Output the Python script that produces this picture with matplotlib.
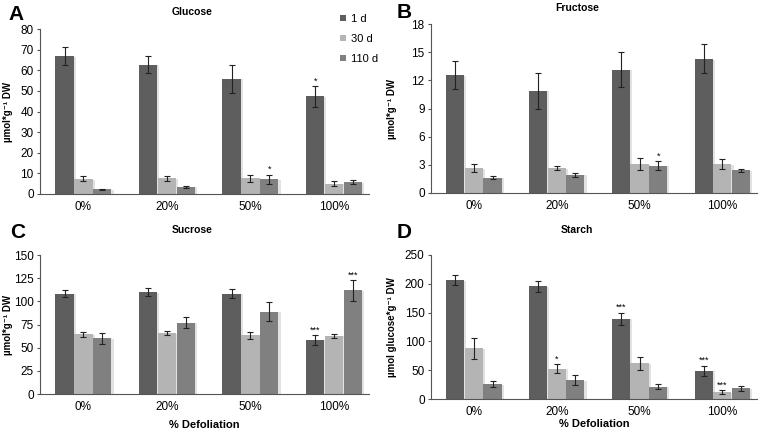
import matplotlib
matplotlib.use("Agg")
import matplotlib.pyplot as plt
import numpy as np

groups = ["0%", "20%", "50%", "100%"]
series = ["1 d", "30 d", "110 d"]
colors = ["#5e5e5e", "#b4b4b4", "#808080"]

# Glucose
glu = [[67.0, 62.8, 56.0, 47.3],
       [7.3, 7.6, 7.6, 5.0],
       [2.2, 3.5, 7.1, 5.8]]
glu_err = [[4.5, 4.2, 6.8, 5.0],
           [1.2, 1.3, 1.8, 1.2],
           [0.4, 0.5, 2.3, 0.8]]
glu_sig = {(0, 3): "*", (2, 2): "*"}

# Fructose
fru = [[12.55, 10.9, 13.15, 14.3],
       [2.65, 2.65, 3.1, 3.1],
       [1.65, 1.95, 2.9, 2.4]]
fru_err = [[1.5, 1.9, 1.9, 1.55],
           [0.45, 0.22, 0.6, 0.5],
           [0.15, 0.2, 0.5, 0.2]]
fru_sig = {(2, 2): "*"}

# Sucrose
suc = [[108.5, 110.2, 108.5, 58.5],
       [64.5, 66.0, 63.5, 63.0],
       [60.5, 77.0, 89.0, 112.0]]
suc_err = [[3.5, 4.0, 5.0, 5.0],
           [3.0, 2.5, 3.5, 2.0],
           [6.0, 6.0, 10.5, 11.0]]
suc_sig = {(0, 3): "***", (2, 3): "***"}

# Starch
sta = [[206.0, 196.0, 139.0, 49.0],
       [88.0, 52.5, 62.0, 12.0],
       [26.0, 33.0, 21.5, 18.5]]
sta_err = [[9.0, 9.5, 11.0, 8.5],
           [18.0, 8.0, 11.5, 3.0],
           [5.0, 8.0, 4.5, 4.0]]
sta_sig = {(1, 1): "*", (0, 2): "***", (0, 3): "***", (1, 3): "***"}

fig = plt.figure(figsize=(7.64, 4.34), dpi=100)
plt.rcParams['font.family'] = ['Liberation Sans', 'DejaVu Sans']

w = 0.22
x = np.arange(len(groups))


def panel(rect, vals, errs, sig, ymax, ystep, ylabel, ylx, xlabel=None, xly=None):
    ax = fig.add_axes(rect)
    for i in range(3):
        pos = x + (i - 1) * (w + 0.005)
        # light shadow on the right side of each bar
        ax.bar(pos + 0.025, np.array(vals[i]) - ymax * 0.004, w, color="#e2e2e2",
               zorder=1)
        ax.bar(pos, vals[i], w, color=colors[i], label=series[i], zorder=2)
        ax.errorbar(pos, vals[i], yerr=errs[i], fmt="none", ecolor="#222222",
                    elinewidth=0.8, capsize=2, capthick=0.8, zorder=3)
    for (i, j), s in sig.items():
        pos = j + (i - 1) * (w + 0.005)
        ax.text(pos, vals[i][j] + errs[i][j] + ymax * 0.005, s, ha="center",
                va="bottom", fontsize=6.5)
    ax.set_xlim(-0.52, 3.42)
    ax.set_ylim(0, ymax)
    ax.set_yticks(np.arange(0, ymax + 0.1, ystep))
    ax.set_xticks(x)
    ax.set_xticklabels(groups, fontsize=8.5)
    ax.tick_params(axis="y", labelsize=8.5, length=2.5, color="#555555",
                   width=0.8, pad=2)
    ax.tick_params(axis="x", length=0, pad=5)
    for s in ["top", "right"]:
        ax.spines[s].set_visible(False)
    for s in ["left", "bottom"]:
        ax.spines[s].set_color("#555555")
        ax.spines[s].set_linewidth(0.8)
    ax.set_ylabel(ylabel, fontsize=7, fontweight="bold")
    ax.yaxis.set_label_coords(ylx, 0.5)
    if xlabel:
        ax.set_xlabel(xlabel, fontsize=8, fontweight="bold")
        ax.xaxis.set_label_coords(0.5, xly)
    return ax


axA = panel([0.0524, 0.553, 0.4306, 0.380], glu, glu_err, glu_sig, 80, 10,
            "µmol*g⁻¹ DW", -0.082)
axB = panel([0.564, 0.5553, 0.427, 0.389], fru, fru_err, fru_sig, 18, 3,
            "µmol*g⁻¹ DW", -0.104)
axC = panel([0.0524, 0.092, 0.4306, 0.320], suc, suc_err, suc_sig, 150, 25,
            "µmol*g⁻¹ DW", -0.082, "% Defoliation", -0.187)
axD = panel([0.564, 0.0806, 0.427, 0.332], sta, sta_err, sta_sig, 250, 50,
            "µmol glucose*g⁻¹ DW", -0.104, "% Defoliation", -0.139)

fig.text(192 / 764, 1 - 12 / 434, "Glucose", ha="center", va="center",
         fontsize=7.5, fontweight="bold")
fig.text(577 / 764, 1 - 8 / 434, "Fructose", ha="center", va="center",
         fontsize=7.5, fontweight="bold")
fig.text(192 / 764, 1 - 230 / 434, "Sucrose", ha="center", va="center",
         fontsize=7.5, fontweight="bold")
fig.text(577 / 764, 1 - 230 / 434, "Starch", ha="center", va="center",
         fontsize=7.5, fontweight="bold")

for lab, px, py in [("A", 8, 15), ("B", 397, 12), ("C", 10, 232),
                    ("D", 397, 232)]:
    fig.text(px / 764, 1 - py / 434, lab, ha="left", va="center",
             fontsize=15, fontweight="bold")

handles, labels = axA.get_legend_handles_labels()
hs = [h for h in handles if h.get_label() in series]
leg = fig.legend(hs, series, loc="upper left",
                 bbox_to_anchor=(330 / 764, 1 - 4 / 434), frameon=False,
                 fontsize=8, handlelength=0.55, handleheight=0.55,
                 handletextpad=0.4, labelspacing=0.9)

fig.savefig("out.png", dpi=100)
